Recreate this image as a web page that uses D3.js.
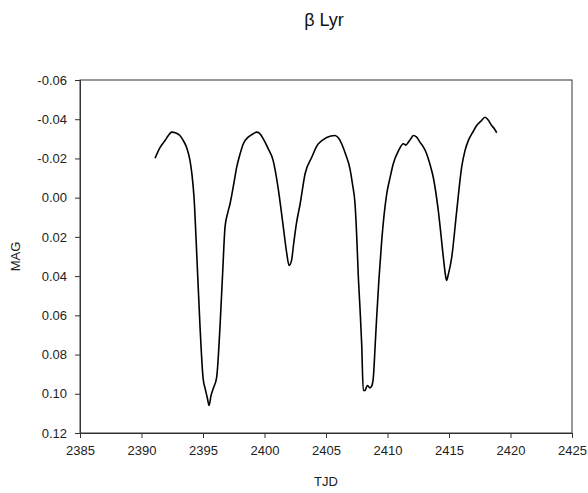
<!DOCTYPE html>
<html>
<head>
<meta charset="utf-8">
<script src="https://cdn.jsdelivr.net/npm/d3@7"></script>
<style>
  body { margin: 0; background: #fff; }
  svg { font-family: "Liberation Sans", Arial, sans-serif; }
</style>
</head>
<body>
<div id="chart"></div>
<script>
// light curve of beta Lyr
const tjd = [2391.1, 2391.5, 2391.9, 2392.2, 2392.45, 2392.8, 2393.1, 2393.4, 2393.7, 2393.94, 2394.1, 2394.27,
  2394.5, 2394.76, 2395.0, 2395.2, 2395.35, 2395.49, 2395.65, 2395.85, 2396.11, 2396.38, 2396.6, 2396.79,
  2397.0, 2397.2, 2397.5, 2397.74, 2398.0, 2398.28, 2398.7, 2399.09, 2399.36, 2399.6, 2399.9, 2400.3,
  2400.7, 2401.1, 2401.53, 2401.8, 2402.0, 2402.2, 2402.37, 2402.6, 2402.9, 2403.3, 2403.84, 2404.38,
  2405.73, 2406.0, 2406.27, 2406.6, 2406.95, 2407.15, 2407.36, 2407.5, 2407.63, 2407.76, 2407.9, 2408.03,
  2408.17, 2408.36, 2408.58, 2408.72, 2408.85, 2409.0, 2409.12, 2409.3, 2409.53, 2409.94, 2410.2, 2410.47,
  2410.9, 2411.29, 2411.5, 2411.69, 2411.9, 2412.1, 2412.35, 2412.64, 2412.9, 2413.18, 2413.45, 2413.72,
  2414.13, 2414.54, 2414.7, 2414.8, 2414.95, 2415.22, 2415.63, 2416.03, 2416.3, 2416.57, 2416.9, 2417.25,
  2417.6, 2417.93, 2418.2, 2418.47, 2418.7, 2418.88];
const mag = [-0.0201, -0.0255, -0.029, -0.0318, -0.0334, -0.033, -0.0318, -0.0291, -0.025, -0.019, -0.012, -0.0002,
  0.03, 0.066, 0.0916, 0.098, 0.102, 0.106, 0.101, 0.097, 0.0916, 0.066, 0.038, 0.015,
  0.008, 0.0031, -0.007, -0.0156, -0.022, -0.0275, -0.031, -0.0326, -0.0334, -0.0328, -0.030, -0.025,
  -0.019, -0.0053, 0.015, 0.028, 0.0346, 0.032, 0.0235, 0.013, 0.0031, -0.0122, -0.0206, -0.0275,
  -0.0317, -0.0305, -0.0275, -0.022, -0.0147, -0.007, 0.0031, 0.02, 0.0406, 0.0559, 0.0745, 0.0983,
  0.0983, 0.0958, 0.097, 0.096, 0.0916, 0.075, 0.061, 0.042, 0.0219, -0.002, -0.01, -0.0173,
  -0.024, -0.0275, -0.0268, -0.0283, -0.030, -0.0317, -0.031, -0.0283, -0.026, -0.0224, -0.017, -0.0104,
  0.0066, 0.0304, 0.039, 0.0422, 0.039, 0.0304, 0.0066, -0.0156, -0.024, -0.0291, -0.033, -0.0368,
  -0.039, -0.041, -0.0395, -0.0368, -0.035, -0.0331];

const xTicks = [2385, 2390, 2395, 2400, 2405, 2410, 2415, 2420, 2425];
const yTicks = [-0.06, -0.04, -0.02, 0.00, 0.02, 0.04, 0.06, 0.08, 0.10, 0.12];

const width = 588, height = 493;
const margin = { top: 80, right: 16, bottom: 60, left: 80 };
const w = width - margin.left - margin.right;
const h = height - margin.top - margin.bottom;

const svg = d3.select('#chart').append('svg')
    .attr('width', width)
    .attr('height', height);

const g = svg.append('g')
    .attr('transform', 'translate(' + margin.left + ',' + margin.top + ')');

const x = d3.scaleLinear().domain([2385, 2425]).range([0, w]);
const y = d3.scaleLinear().domain([-0.06, 0.12]).range([0, h]);

// frame
g.append('rect')
    .attr('width', w).attr('height', h)
    .attr('fill', 'none').attr('stroke', '#333').attr('stroke-width', 1);

const xAxis = g.append('g')
    .attr('transform', 'translate(0,' + h + ')')
    .call(d3.axisBottom(x).tickValues(xTicks).tickFormat(d3.format('d')).tickSize(5).tickPadding(8));

// plain hyphen for negatives, like the original
const yAxis = g.append('g')
    .call(d3.axisLeft(y).tickValues(yTicks)
        .tickFormat(d => d3.format('.2f')(d).replace('\u2212', '-'))
        .tickSize(5).tickPadding(8));

[xAxis, yAxis].forEach(a => {
    a.select('.domain').attr('stroke', '#333');
    a.selectAll('.tick line').attr('stroke', '#333');
    a.selectAll('text').attr('font-size', 13).attr('fill', '#222')
        .attr('font-family', '"Liberation Sans", Arial, sans-serif');
});

const pts = tjd.map((t, i) => [t, mag[i]]);
const line = d3.line().x(d => x(d[0])).y(d => y(d[1])).curve(d3.curveMonotoneX);

g.append('path')
    .datum(pts)
    .attr('d', line)
    .attr('fill', 'none')
    .attr('stroke', '#000')
    .attr('stroke-width', 1.6)
    .attr('stroke-linejoin', 'round');

svg.append('text')
    .attr('x', 324).attr('y', 26)
    .attr('text-anchor', 'middle')
    .attr('font-size', 18)
    .attr('fill', '#111')
    .text('β Lyr');

svg.append('text')
    .attr('x', margin.left + w / 2).attr('y', 486)
    .attr('text-anchor', 'middle')
    .attr('font-size', 13)
    .attr('fill', '#222')
    .text('TJD');

svg.append('text')
    .attr('transform', 'translate(20,' + (margin.top + h / 2) + ') rotate(-90)')
    .attr('text-anchor', 'middle')
    .attr('font-size', 13)
    .attr('fill', '#222')
    .text('MAG');
</script>
</body>
</html>
